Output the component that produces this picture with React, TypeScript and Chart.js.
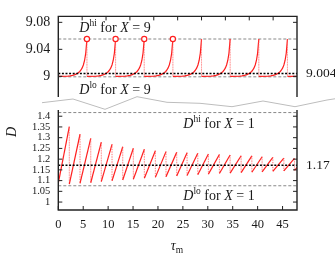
import React, { useEffect, useRef } from "react";
import { Chart, registerables } from "chart.js";
Chart.register(...registerables);

const FONT = "'Liberation Serif', 'DejaVu Serif', serif";
const RED = "#ff1f1f";
const PINK = "rgba(255,90,90,0.55)";

// ---------- Top panel (X = 9) ----------
const topXRange = [0, 50];
const topYRange = [8.9694, 9.0888];
const topYTicks = [9, 9.04, 9.08];
const topYTickLabels = ["9", "9.04", "9.08"];
const topXTickMarks = [5, 10, 15, 20, 25, 30, 35, 40, 45];
const topPeakTimes = [6, 12, 18, 24, 30, 36, 42, 48];
const topMarkedPeaks = [6, 12, 18, 24];
const topToothOffsets = [-6, -4, -3.5, -3, -2.5, -2, -1.5, -1.25, -1, -0.75, -0.5, -0.25, 0];
const topToothValues = [9.0, 9.0003, 9.0007, 9.0014, 9.0026, 9.0044, 9.0072, 9.0095, 9.0125, 9.0168, 9.0235, 9.0345, 9.0553];
const topTail = { x: 50, y: 9.0001 };
const dHi9 = 9.0553;
const dLo9 = 8.9993;
const dStar9 = 9.0043;
const dStar9Label = "9.004";

// ---------- Bottom panel (X = 1) ----------
const botXRange = [0, 47.9];
const botYRange = [0.963, 1.429];
const botXTicks = [0, 5, 10, 15, 20, 25, 30, 35, 40, 45];
const botXTickLabels = ["0", "5", "10", "15", "20", "25", "30", "35", "40", "45"];
const botYTicks = [1, 1.05, 1.1, 1.15, 1.2, 1.25, 1.3, 1.35, 1.4];
const botYTickLabels = ["1", "1.05", "1.1", "1.15", "1.2", "1.25", "1.3", "1.35", "1.4"];
const botStartValue = 1.088;
const botPeakTimes = [2.21, 4.36, 6.51, 8.63, 10.78, 12.93, 15.06, 17.27, 19.48, 21.61, 23.76, 25.84, 27.99, 30.12, 32.33, 34.48, 36.69, 38.84, 40.9, 43.05, 45.26, 47.39, 49.54];
const botPeakValues = [1.351, 1.316, 1.297, 1.279, 1.269, 1.258, 1.251, 1.246, 1.239, 1.235, 1.232, 1.23, 1.227, 1.224, 1.222, 1.219, 1.216, 1.215, 1.211, 1.208, 1.205, 1.204, 1.202];
const botResetValues = [1.084, 1.087, 1.09, 1.095, 1.099, 1.103, 1.106, 1.111, 1.115, 1.118, 1.121, 1.124, 1.127, 1.13, 1.133, 1.135, 1.137, 1.139, 1.141, 1.143, 1.145, 1.148];
const dHi1 = 1.417;
const dLo1 = 1.076;
const dStar1 = 1.171;
const dStar1Label = "1.17";

type Part = { t: string; it?: boolean; sup?: boolean; sub?: boolean };

function drawRich(ctx: CanvasRenderingContext2D, parts: Part[], cx: number, cy: number, size: number) {
  const fontFor = (p: Part) => `${p.it ? "italic " : ""}${p.sup || p.sub ? size * 0.68 : size}px ${FONT}`;
  let w = 0;
  for (const p of parts) {
    ctx.font = fontFor(p);
    w += ctx.measureText(p.t).width;
  }
  let x = cx - w / 2;
  ctx.textAlign = "left";
  ctx.textBaseline = "alphabetic";
  const base = cy + size * 0.33;
  for (const p of parts) {
    ctx.font = fontFor(p);
    const dy = p.sup ? -size * 0.4 : p.sub ? size * 0.22 : 0;
    ctx.fillText(p.t, x, base + dy);
    x += ctx.measureText(p.t).width;
  }
}

const isVertical = (c: any) => Math.abs(c.p0.parsed.x - c.p1.parsed.x) < 1e-9;

function buildTopCurve() {
  const pts: { x: number; y: number }[] = [];
  topPeakTimes.forEach((p) => {
    topToothOffsets.forEach((o, j) => pts.push({ x: p + o, y: topToothValues[j] }));
  });
  pts.push({ x: topPeakTimes[topPeakTimes.length - 1], y: topToothValues[0] });
  pts.push(topTail);
  return pts;
}

function buildBotCurve() {
  const pts: { x: number; y: number }[] = [{ x: 0, y: botStartValue }];
  botPeakTimes.forEach((p, i) => {
    pts.push({ x: p, y: botPeakValues[i] });
    if (i < botResetValues.length) pts.push({ x: p, y: botResetValues[i] });
  });
  return pts;
}

const hline = (v: number, range: number[]) => [
  { x: range[0], y: v },
  { x: range[1], y: v },
];

function makeDeco(kind: "top" | "bot") {
  return {
    id: "deco" + kind,
    afterDatasetsDraw(chart: any) {
      const { ctx, chartArea: a, scales } = chart;
      const xs = scales.x;
      const ys = scales.y;
      ctx.save();
      ctx.strokeStyle = "#222";
      ctx.lineWidth = 1.4;
      ctx.beginPath();
      if (kind === "top") {
        ctx.moveTo(a.left, a.bottom);
        ctx.lineTo(a.left, a.top);
        ctx.lineTo(a.right, a.top);
        ctx.lineTo(a.right, a.bottom);
      } else {
        ctx.moveTo(a.left, a.top);
        ctx.lineTo(a.left, a.bottom);
        ctx.lineTo(a.right, a.bottom);
        ctx.lineTo(a.right, a.top);
      }
      ctx.stroke();
      ctx.lineWidth = 1;
      ctx.beginPath();
      const L = 4;
      const yt = kind === "top" ? topYTicks : botYTicks;
      yt.forEach((v) => {
        const py = ys.getPixelForValue(v);
        ctx.moveTo(a.left, py);
        ctx.lineTo(a.left + L, py);
        ctx.moveTo(a.right, py);
        ctx.lineTo(a.right - L, py);
      });
      if (kind === "top") {
        topXTickMarks.forEach((v) => {
          const px = xs.getPixelForValue(v);
          ctx.moveTo(px, a.top);
          ctx.lineTo(px, a.top + L);
        });
      } else {
        botXTicks.forEach((v) => {
          const px = xs.getPixelForValue(v);
          ctx.moveTo(px, a.bottom);
          ctx.lineTo(px, a.bottom - L);
        });
      }
      ctx.stroke();

      ctx.fillStyle = "#1a1a1a";
      if (kind === "top") {
        drawRich(ctx, [{ t: "D", it: true }, { t: "hi", sup: true }, { t: " for " }, { t: "X", it: true }, { t: " = 9" }], 115, 27, 14);
        drawRich(ctx, [{ t: "D", it: true }, { t: "lo", sup: true }, { t: " for " }, { t: "X", it: true }, { t: " = 9" }], 115, 89, 14);
        ctx.font = `13.5px ${FONT}`;
        ctx.textAlign = "left";
        ctx.textBaseline = "middle";
        ctx.fillText(dStar9Label, a.right + 9, ys.getPixelForValue(dStar9));
      } else {
        drawRich(ctx, [{ t: "D", it: true }, { t: "hi", sup: true }, { t: " for " }, { t: "X", it: true }, { t: " = 1" }], 219, 123, 14);
        drawRich(ctx, [{ t: "D", it: true }, { t: "lo", sup: true }, { t: " for " }, { t: "X", it: true }, { t: " = 1" }], 219, 195, 14);
        ctx.font = `13.5px ${FONT}`;
        ctx.textAlign = "left";
        ctx.textBaseline = "middle";
        ctx.fillText(dStar1Label, a.right + 9, ys.getPixelForValue(dStar1));
        ctx.save();
        ctx.translate(12, 132);
        ctx.rotate(-Math.PI / 2);
        ctx.font = `italic 14px ${FONT}`;
        ctx.textAlign = "center";
        ctx.textBaseline = "middle";
        ctx.fillText("D", 0, 0);
        ctx.restore();
        drawRich(ctx, [{ t: "τ", it: true }, { t: "m", sub: true }], 177, 245, 14);
        ctx.strokeStyle = "#bdbdbd";
        ctx.lineWidth = 1;
        ctx.beginPath();
        const zz = [[42, 102.7], [73, 99], [105, 109.3], [137, 96.7], [167, 102.3], [200, 103.3], [232, 106.7], [263, 101], [295, 106.7], [327, 100], [340, 98]];
        zz.forEach(([x, y], i) => (i === 0 ? ctx.moveTo(x, y) : ctx.lineTo(x, y)));
        ctx.stroke();
      }
      ctx.restore();
    },
  };
}

export default function App() {
  const topRef = useRef<HTMLCanvasElement>(null);
  const botRef = useRef<HTMLCanvasElement>(null);

  useEffect(() => {
    const lineDs = (data: any, color: string, dash: number[], width: number) => ({
      data,
      borderColor: color,
      borderDash: dash,
      borderWidth: width,
      pointRadius: 0,
      fill: false,
      tension: 0,
    });

    const top = new Chart(topRef.current!, {
      type: "line",
      data: {
        datasets: [
          {
            type: "scatter",
            data: topMarkedPeaks.map((p) => ({ x: p, y: dHi9 })),
            pointRadius: 2.6,
            pointBorderColor: RED,
            pointBackgroundColor: "#fff",
            pointBorderWidth: 1.2,
            showLine: false,
          } as any,
          lineDs(hline(dStar9, topXRange), "#000", [2, 1.6], 1.5),
          {
            data: buildTopCurve(),
            borderColor: RED,
            borderWidth: 1.2,
            pointRadius: 0,
            tension: 0,
            segment: {
              borderColor: (c: any) => (isVertical(c) ? PINK : undefined),
              borderDash: (c: any) => (isVertical(c) ? [1, 1.5] : undefined),
              borderWidth: (c: any) => (isVertical(c) ? 0.8 : undefined),
            },
          } as any,
          lineDs(hline(dHi9, topXRange), "#888", [3, 2], 1),
          lineDs(hline(dLo9, topXRange), "#888", [3, 2], 1),
        ],
      },
      options: {
        responsive: false,
        animation: false,
        events: [],
        layout: { padding: { left: 0, right: 38, top: 14, bottom: 160 } },
        plugins: { legend: { display: false }, tooltip: { enabled: false } },
        scales: {
          x: { type: "linear", min: topXRange[0], max: topXRange[1], display: false },
          y: {
            type: "linear",
            min: topYRange[0],
            max: topYRange[1],
            grid: { display: false, drawTicks: false },
            border: { display: false },
            afterFit: (s: any) => {
              s.width = 58.3;
            },
            afterBuildTicks: (s: any) => {
              s.ticks = topYTicks.map((v) => ({ value: v }));
            },
            ticks: {
              autoSkip: false,
              padding: 8,
              color: "#1a1a1a",
              font: { family: FONT, size: 14 },
              callback: (v: any) => topYTickLabels[topYTicks.findIndex((t) => Math.abs(t - v) < 1e-9)],
            },
          },
        },
      },
      plugins: [makeDeco("top")],
    } as any);

    const bot = new Chart(botRef.current!, {
      type: "line",
      data: {
        datasets: [
          lineDs(hline(dStar1, botXRange), "#000", [2, 1.6], 1.5),
          {
            data: buildBotCurve(),
            borderColor: RED,
            borderWidth: 1.2,
            pointRadius: 0,
            tension: 0,
            segment: {
              borderColor: (c: any) => (isVertical(c) ? PINK : undefined),
              borderDash: (c: any) => (isVertical(c) ? [1, 1.5] : undefined),
              borderWidth: (c: any) => (isVertical(c) ? 0.8 : undefined),
            },
          } as any,
          lineDs(hline(dHi1, botXRange), "#888", [3, 2], 1),
          lineDs(hline(dLo1, botXRange), "#888", [3, 2], 1),
        ],
      },
      options: {
        responsive: false,
        animation: false,
        events: [],
        layout: { padding: { left: 0, right: 38, top: 110, bottom: 0 } },
        plugins: { legend: { display: false }, tooltip: { enabled: false } },
        scales: {
          x: {
            type: "linear",
            min: botXRange[0],
            max: botXRange[1],
            grid: { display: false, drawTicks: false },
            border: { display: false },
            afterFit: (s: any) => {
              s.height = 47;
            },
            afterBuildTicks: (s: any) => {
              s.ticks = botXTicks.map((v) => ({ value: v }));
            },
            ticks: {
              autoSkip: false,
              maxRotation: 0,
              padding: 7,
              color: "#1a1a1a",
              font: { family: FONT, size: 12.5 },
              callback: (v: any) => botXTickLabels[botXTicks.findIndex((t) => Math.abs(t - v) < 1e-9)],
            },
          },
          y: {
            type: "linear",
            min: botYRange[0],
            max: botYRange[1],
            grid: { display: false, drawTicks: false },
            border: { display: false },
            afterFit: (s: any) => {
              s.width = 58.3;
            },
            afterBuildTicks: (s: any) => {
              s.ticks = botYTicks.map((v) => ({ value: v }));
            },
            ticks: {
              autoSkip: false,
              padding: 8,
              color: "#1a1a1a",
              font: { family: FONT, size: 10.5 },
              callback: (v: any) => botYTickLabels[botYTicks.findIndex((t) => Math.abs(t - v) < 1e-9)],
            },
          },
        },
      },
      plugins: [makeDeco("bot")],
    } as any);

    return () => {
      top.destroy();
      bot.destroy();
    };
  }, []);

  return (
    <div style={{ position: "absolute", left: 0, top: 0, width: 335, height: 257, background: "#fff", overflow: "hidden" }}>
      <canvas ref={topRef} width={335} height={257} style={{ position: "absolute", left: 0, top: 0 }} />
      <canvas ref={botRef} width={335} height={257} style={{ position: "absolute", left: 0, top: 0 }} />
    </div>
  );
}
